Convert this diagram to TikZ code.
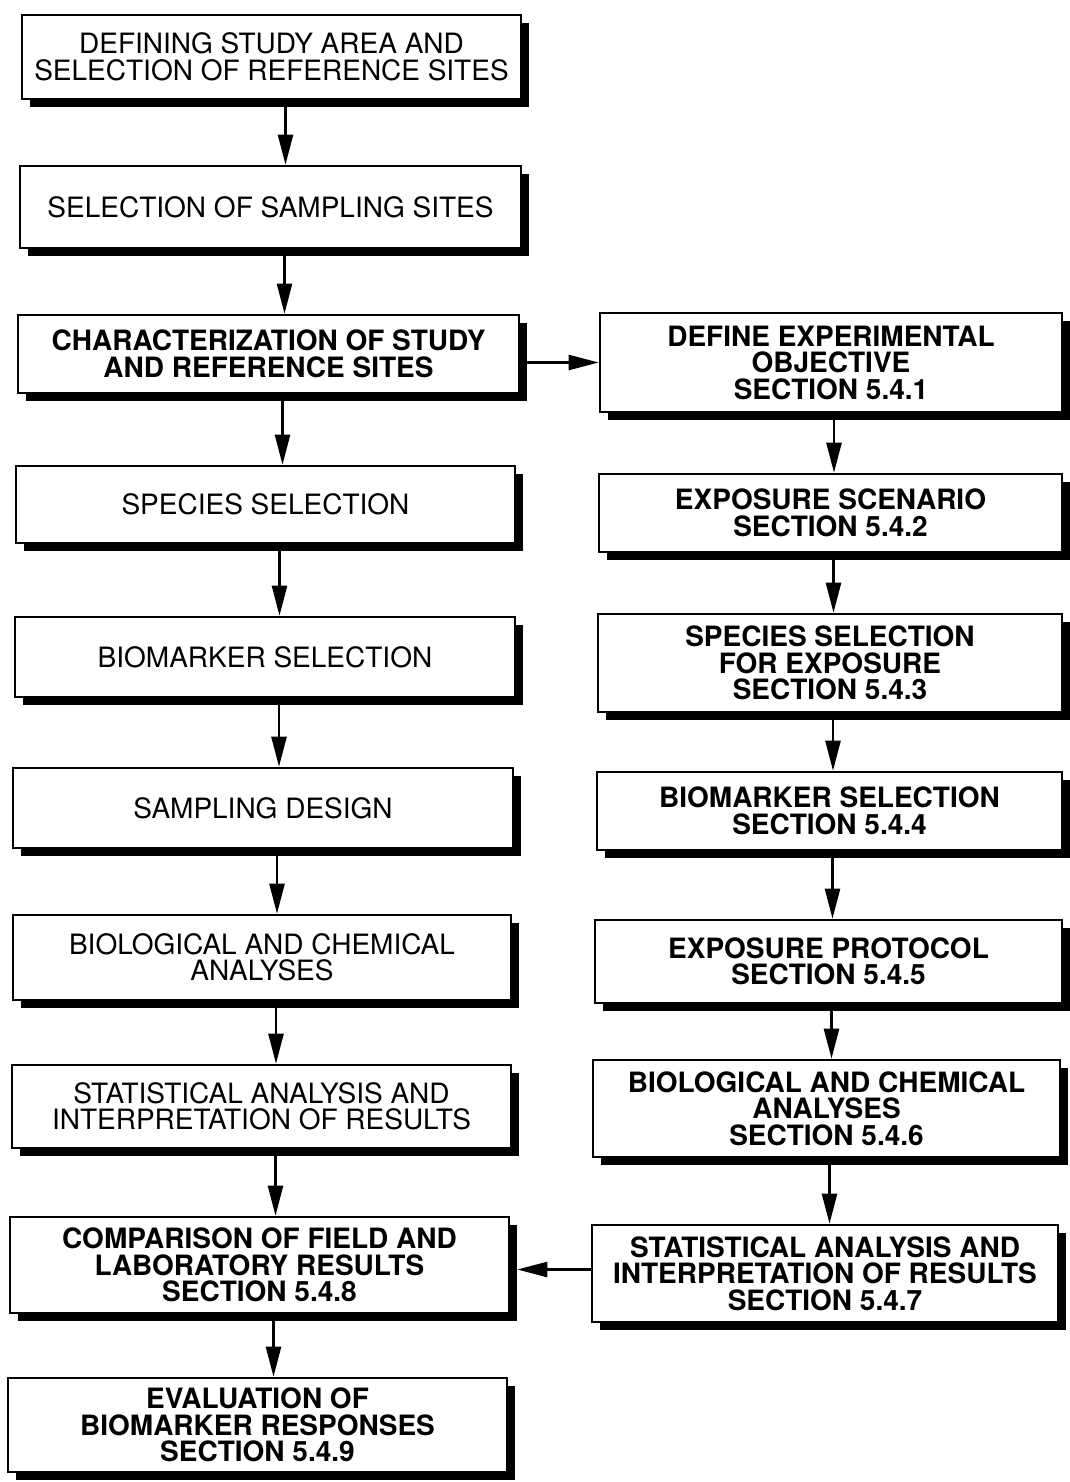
\documentclass[tikz,border=0pt]{standalone}
\usepackage{fontspec}
\setmainfont{TeX Gyre Heros}
\usetikzlibrary{arrows.meta,shadows}

% box from its corner coordinates: style, name, x1, y1, x2, y2, text
\newcommand\stagebox[7]{%
  \pgfmathsetmacro\bw{#5-#3}%
  \pgfmathsetmacro\bh{#6-#4}%
  \node[#1, minimum width=\bw pt, minimum height=\bh pt] (#2)
    at ({(#3+#5)/2},{(#4+#6)/2}) {#7};}

\begin{document}
\begin{tikzpicture}[x=1pt,y=-1pt,
  box/.style={draw=black, line width=2.6pt, fill=white, rectangle,
    inner sep=2pt, align=center,
    font=\fontsize{28}{26.5}\selectfont,
    drop shadow={shadow xshift=8pt, shadow yshift=-8pt, fill=black, opacity=1}},
  boldbox/.style={box, font=\fontsize{28}{26.5}\selectfont\bfseries},
  arr/.style={line width=2.4pt, -{Triangle[length=30pt,width=15pt]}}]

\useasboundingbox (0,0) rectangle (1070,1482);

% field study column
\stagebox{box}{l1}{22}{15}{521}{99}{DEFINING STUDY AREA AND\\SELECTION OF REFERENCE SITES}
\stagebox{box}{l2}{20}{166}{521}{248}{SELECTION OF SAMPLING SITES}
\stagebox{boldbox}{l3}{18}{315}{519}{393}{CHARACTERIZATION OF STUDY\\AND REFERENCE SITES}
\stagebox{box}{l4}{16}{466}{515}{543}{SPECIES SELECTION}
\stagebox{box}{l5}{15}{617}{515}{697}{BIOMARKER SELECTION}
\stagebox{box}{l6}{13}{768}{513}{848}{SAMPLING DESIGN}
\stagebox{box}{l7}{13}{915}{511}{1000}{BIOLOGICAL AND CHEMICAL\\ANALYSES}
\stagebox{box}{l8}{12}{1065}{511}{1148}{STATISTICAL ANALYSIS AND\\INTERPRETATION OF RESULTS}
\stagebox{boldbox}{l9}{10}{1217}{509}{1313}{COMPARISON OF FIELD AND\\LABORATORY RESULTS\\SECTION 5.4.8}
\stagebox{boldbox}{l10}{8}{1378}{507}{1472}{EVALUATION OF\\BIOMARKER RESPONSES\\SECTION 5.4.9}

% laboratory exposure column
\stagebox{boldbox}{r1}{600}{313}{1062}{412}{DEFINE EXPERIMENTAL\\OBJECTIVE\\SECTION 5.4.1}
\stagebox{boldbox}{r2}{599}{474}{1062}{552}{EXPOSURE SCENARIO\\SECTION 5.4.2}
\stagebox{boldbox}{r3}{598}{614}{1062}{712}{SPECIES SELECTION\\FOR EXPOSURE\\SECTION 5.4.3}
\stagebox{boldbox}{r4}{597}{772}{1062}{850}{BIOMARKER SELECTION\\SECTION 5.4.4}
\stagebox{boldbox}{r5}{595}{920}{1062}{1003}{EXPOSURE PROTOCOL\\SECTION 5.4.5}
\stagebox{boldbox}{r6}{593}{1060}{1060}{1157}{BIOLOGICAL AND CHEMICAL\\ANALYSES\\SECTION 5.4.6}
\stagebox{boldbox}{r7}{592}{1225}{1058}{1322}{STATISTICAL ANALYSIS AND\\INTERPRETATION OF RESULTS\\SECTION 5.4.7}

% vertical links, left column
\foreach \a/\b in {l1/l2,l2/l3,l3/l4,l4/l5,l5/l6,l6/l7,l7/l8,l8/l9,l9/l10}
  \draw[arr] ([xshift=14pt]\a.south) -- ([xshift=14pt]\a.south |- \b.north);

% vertical links, right column
\foreach \a/\b in {r1/r2,r2/r3,r3/r4,r4/r5,r5/r6,r6/r7}
  \draw[arr] ([xshift=3pt]\a.south) -- ([xshift=3pt]\a.south |- \b.north);

% cross links between the columns
\draw[arr] (l3.east |- r1.west) -- (r1.west);
\draw[arr, shorten >=7pt] ([yshift=4pt]r7.west) -- ([yshift=4pt]r7.west -| l9.east);

\end{tikzpicture}
\end{document}
